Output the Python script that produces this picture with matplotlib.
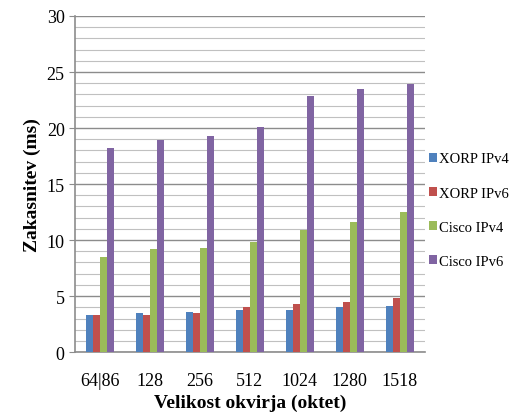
import numpy as np
import matplotlib.pyplot as plt

plt.rcParams['font.family'] = ['Liberation Serif', 'DejaVu Serif']

sizes = ['64|86', '128', '256', '512', '1024', '1280', '1518']
xorp_v4 = [3.3, 3.5, 3.6, 3.8, 3.8, 4.05, 4.1]
xorp_v6 = [3.3, 3.3, 3.5, 4.0, 4.3, 4.5, 4.8]
cisco_v4 = [8.5, 9.2, 9.3, 9.8, 10.9, 11.6, 12.5]
cisco_v6 = [18.2, 18.9, 19.3, 20.1, 22.9, 23.5, 23.9]

series = [('XORP IPv4', xorp_v4, '#4f81bd'),
          ('XORP IPv6', xorp_v6, '#c0504d'),
          ('Cisco IPv4', cisco_v4, '#9bbb59'),
          ('Cisco IPv6', cisco_v6, '#8064a2')]

fig = plt.figure(figsize=(5.18, 4.14), dpi=100)
ax = fig.add_axes([0.145, 0.147, 0.675, 0.812])

x = np.arange(len(sizes))
w = 0.14
for i, (name, vals, col) in enumerate(series):
    ax.bar(x + (i - 1.5) * w, vals, w, color=col, label=name, zorder=3)

ax.set_ylim(0, 30)
ax.set_xlim(-0.5, len(sizes) - 0.5)
ax.set_yticks(range(0, 31, 5))
ax.set_yticks(range(0, 31), minor=True)
ax.grid(axis='y', which='minor', color='#c0c0c0', linewidth=0.8, zorder=0)
ax.grid(axis='y', which='major', color='#8c8c8c', linewidth=1.0, zorder=1)
ax.tick_params(axis='y', which='major', length=4, color='#8c8c8c', labelsize=13)
ax.tick_params(axis='y', which='minor', length=0)
ax.set_xticks(x)
ax.set_xticklabels(sizes)
ax.tick_params(axis='x', length=0, labelsize=13, pad=14)
for s in ['top', 'right']:
    ax.spines[s].set_visible(False)
for s in ['left', 'bottom']:
    ax.spines[s].set_color('#8c8c8c')
    ax.spines[s].set_linewidth(1.2)

ax.set_ylabel('Zakasnitev (ms)', fontsize=14, fontweight='bold')
ax.set_xlabel('Velikost okvirja (oktet)', fontsize=14, fontweight='bold', labelpad=4)

ax.legend(loc='center left', bbox_to_anchor=(0.828, 0.49), bbox_transform=fig.transFigure,
          frameon=False, handlelength=0.55, handleheight=0.55, handletextpad=0.15,
          labelspacing=1.45, fontsize=10.5, borderaxespad=0, borderpad=0)

fig.savefig('out.png', dpi=100)
